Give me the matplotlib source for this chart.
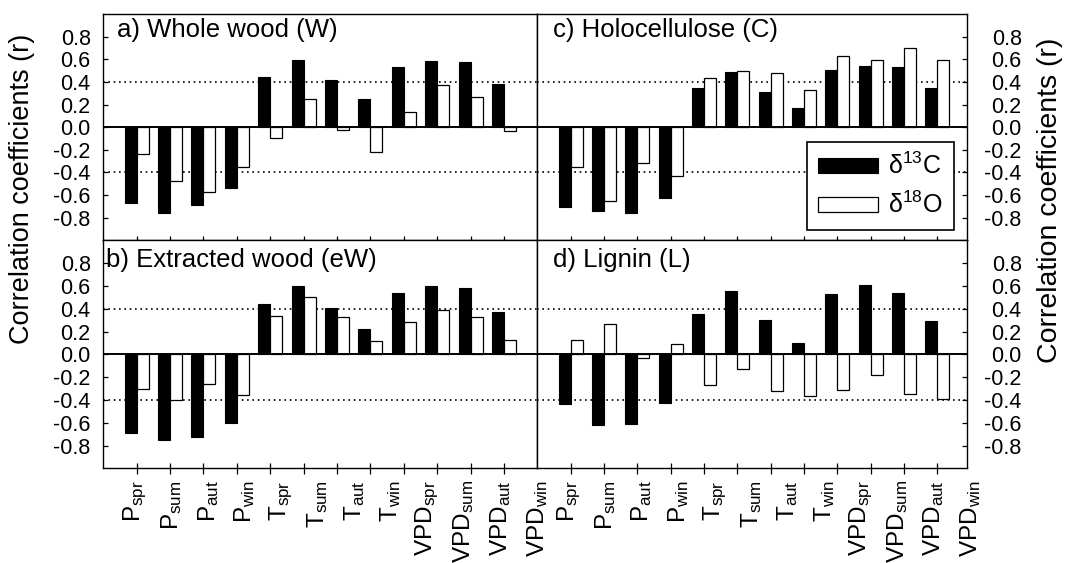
import numpy as np
import matplotlib
matplotlib.use("Agg")
import matplotlib.pyplot as plt
from matplotlib.patches import Patch

plt.rcParams['font.family'] = ['Liberation Sans', 'DejaVu Sans']
plt.rcParams['mathtext.fontset'] = 'custom'
plt.rcParams['mathtext.rm'] = 'Liberation Sans'
plt.rcParams['mathtext.it'] = 'Liberation Sans:italic'
plt.rcParams['mathtext.bf'] = 'Liberation Sans:bold'

# Climate variables (precipitation, temperature, vapour pressure deficit) by season
variables = ['P', 'P', 'P', 'P', 'T', 'T', 'T', 'T', 'VPD', 'VPD', 'VPD', 'VPD']
seasons = ['spr', 'sum', 'aut', 'win'] * 3
tick_labels = [v + r'$_{\mathregular{' + s + '}}$' for v, s in zip(variables, seasons)]

# Correlation coefficients, delta13C and delta18O, for each wood fraction
whole_d13C = [-0.67, -0.755, -0.69, -0.535, 0.445, 0.59, 0.415, 0.25, 0.53, 0.585, 0.575, 0.38]
whole_d18O = [-0.24, -0.48, -0.57, -0.355, -0.10, 0.245, -0.025, -0.22, 0.135, 0.37, 0.265, -0.03]
extracted_d13C = [-0.69, -0.755, -0.725, -0.605, 0.44, 0.595, 0.405, 0.225, 0.54, 0.60, 0.58, 0.37]
extracted_d18O = [-0.30, -0.40, -0.26, -0.355, 0.34, 0.505, 0.33, 0.12, 0.28, 0.385, 0.33, 0.125]
holo_d13C = [-0.71, -0.74, -0.76, -0.625, 0.35, 0.485, 0.31, 0.17, 0.505, 0.54, 0.535, 0.35]
holo_d18O = [-0.355, -0.65, -0.32, -0.435, 0.43, 0.50, 0.48, 0.33, 0.625, 0.59, 0.70, 0.59]
lignin_d13C = [-0.44, -0.62, -0.615, -0.43, 0.355, 0.555, 0.30, 0.095, 0.53, 0.605, 0.54, 0.295]
lignin_d18O = [0.125, 0.265, -0.035, 0.09, -0.27, -0.13, -0.32, -0.37, -0.315, -0.18, -0.35, -0.39]

panel_titles = ['a) Whole wood (W)', 'b) Extracted wood (eW)',
                'c) Holocellulose (C)', 'd) Lignin (L)']
yticks = [-0.8, -0.6, -0.4, -0.2, 0.0, 0.2, 0.4, 0.6, 0.8]
ytick_labels = ['%.1f' % v for v in yticks]

W, H = 1073, 563
fig = plt.figure(figsize=(W / 100, H / 100), dpi=100)


def add_axes_px(left, right, top, bottom):
    return fig.add_axes([left / W, 1 - bottom / H, (right - left) / W, (bottom - top) / H])


ax_a = add_axes_px(103.3, 537.3, 14.0, 240.3)
ax_b = add_axes_px(103.3, 537.3, 240.3, 468.3)
ax_c = add_axes_px(537.3, 966.7, 14.0, 240.3)
ax_d = add_axes_px(537.3, 966.7, 240.3, 468.3)

panels = [
    (ax_a, whole_d13C, whole_d18O, 'left', 'top'),
    (ax_b, extracted_d13C, extracted_d18O, 'left', 'bottom'),
    (ax_c, holo_d13C, holo_d18O, 'right', 'top'),
    (ax_d, lignin_d13C, lignin_d18O, 'right', 'bottom'),
]
title_pos = {
    ax_a: (116.7, 23.3), ax_b: (106.0, 26.4),
    ax_c: (552.7, 23.3), ax_d: (552.7, 26.4),
}

x = np.arange(1, 13)
bw = 0.36
pt = 0.72  # points per pixel at 100 dpi

for (ax, c13, o18, side, row), title in zip(panels, panel_titles):
    ax.axhline(0.4, color='black', lw=1.2, ls=(0, (1, 2.2)), zorder=1)
    ax.axhline(-0.4, color='black', lw=1.2, ls=(0, (1, 2.2)), zorder=1)
    ax.bar(x - bw / 2, c13, width=bw, color='black', edgecolor='black', lw=0.8, zorder=2)
    ax.bar(x + bw / 2, o18, width=bw, color='white', edgecolor='black', lw=0.9, zorder=2)
    ax.axhline(0, color='black', lw=1.4, zorder=3)

    ax.set_xlim(0, 13 if side == 'left' else 12.88)
    ax.set_ylim(-1.0, 1.0)
    for sp in ax.spines.values():
        sp.set_linewidth(1.0)

    ax.set_xticks(x)
    ax.set_xticklabels([])
    if row == 'top':
        ax.tick_params(axis='x', direction='in', length=4 * pt, width=0.9,
                       bottom=True, top=False, labelbottom=False)
    else:
        ax.tick_params(axis='x', direction='inout', length=11 * pt, width=0.9,
                       bottom=True, top=False, labelbottom=False)
        label_x = 0.95 + 1.095 * np.arange(12)
        for lx, lab in zip(label_x, tick_labels):
            ax.annotate(lab, xy=(lx, 0), xycoords=('data', 'axes fraction'),
                        xytext=(0, -12), textcoords='offset pixels',
                        rotation=90, ha='center', va='top', fontsize=17.5,
                        annotation_clip=False)

    ax.set_yticks(yticks)
    ax.set_yticklabels(ytick_labels)
    if side == 'left':
        ax.tick_params(axis='y', direction='in', length=5 * pt, width=0.9,
                       left=True, right=False, labelleft=True, labelright=False,
                       pad=12.6 * pt, labelsize=15.5)
    else:
        ax.tick_params(axis='y', direction='in', length=5 * pt, width=0.9,
                       left=False, right=True, labelleft=False, labelright=True,
                       pad=55 * pt, labelsize=15.5)
        for t in ax.yaxis.get_major_ticks():
            t.label2.set_horizontalalignment('right')

    tx, ty = title_pos[ax]
    x0 = ax.get_position().x0 * W
    w = ax.get_position().width * W
    h = ax.get_position().height * H
    ax.text((tx - x0) / w, 1 - ty / h, title, transform=ax.transAxes,
            ha='left', va='baseline', fontsize=18.5)

handles = [Patch(facecolor='black', edgecolor='black', lw=0.8),
           Patch(facecolor='white', edgecolor='black', lw=0.9)]
leg = ax_c.legend(handles, [r'δ$^{\mathregular{13}}$C', r'δ$^{\mathregular{18}}$O'],
                  loc='upper left', bbox_to_anchor=(0.627, 0.4357), borderaxespad=0,
                  fontsize=18, frameon=True, fancybox=False, shadow=False,
                  framealpha=1, edgecolor='black', handlelength=2.4,
                  handleheight=0.5, handletextpad=0.42, borderpad=0.45,
                  labelspacing=0.5)
leg.get_frame().set_linewidth(1.2)
leg.set_zorder(5)

fig.text(22 / W, 1 - 188.5 / H, 'Correlation coefficients (r)', rotation=90,
         ha='center', va='center', fontsize=19.5)
fig.text(1050 / W, 1 - 200 / H, 'Correlation coefficients (r)', rotation=90,
         ha='center', va='center', fontsize=20.5)

fig.savefig('out.png', dpi=100)
